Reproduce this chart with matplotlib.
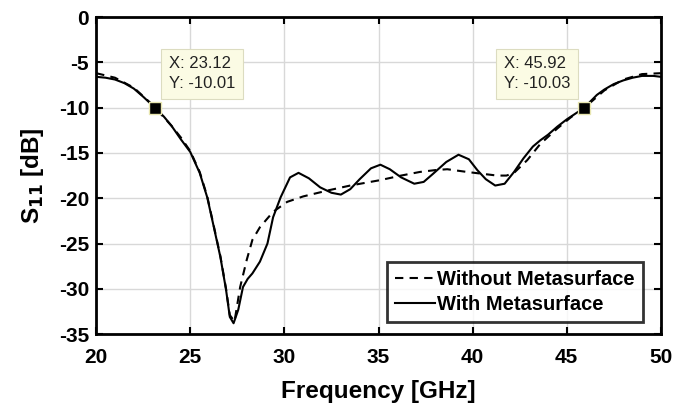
import matplotlib
matplotlib.use("Agg")
import matplotlib.pyplot as plt

# S11 (GHz, dB)
freq_with = [20.0, 20.5, 21.0, 21.5, 22.0, 22.5, 23.12, 23.6, 24.0, 24.5, 25.0,
             25.5, 25.9, 26.2, 26.6, 26.9, 27.1, 27.3, 27.55, 27.8, 28.05, 28.3,
             28.7, 29.1, 29.4, 29.8, 30.3, 30.75, 31.3, 31.9, 32.5, 33.0, 33.5,
             34.0, 34.6, 35.1, 35.6, 36.2, 36.9, 37.4, 37.9, 38.6, 39.25, 39.8,
             40.25, 40.7, 41.2, 41.7, 42.2, 42.7, 43.2, 43.6, 44.0, 44.5, 45.0,
             45.92, 46.6, 47.0, 47.5, 48.0, 48.5, 49.0, 49.6, 50.0]
s11_with = [-6.6, -6.7, -6.9, -7.3, -7.9, -8.8, -10.01, -11.0, -12.0, -13.5, -14.9,
            -17.2, -19.9, -22.7, -26.5, -30.1, -33.1, -33.8, -32.3, -29.8, -28.9, -28.3,
            -27.0, -25.0, -22.1, -19.9, -17.7, -17.2, -17.8, -18.8, -19.4, -19.6, -19.0,
            -17.9, -16.7, -16.3, -16.8, -17.7, -18.4, -18.2, -17.3, -16.0, -15.2, -15.7,
            -16.9, -17.9, -18.6, -18.4, -17.1, -15.6, -14.3, -13.6, -13.0, -12.1, -11.3,
            -10.03, -8.6, -8.0, -7.4, -7.0, -6.7, -6.5, -6.5, -6.6]

freq_without = [20.0, 21.0, 22.0, 23.0, 24.0, 24.5, 25.0, 25.5, 25.9, 26.2, 26.6,
                26.9, 27.1, 27.35, 27.65, 28.0, 28.3, 28.7, 29.4, 30.15, 31.0, 32.4,
                33.5, 35.1, 36.2, 37.2, 38.0, 38.65, 39.7, 40.5, 41.3, 41.8, 42.2,
                42.9, 43.6, 44.5, 45.2, 46.0, 47.0, 48.0, 49.0, 50.0]
s11_without = [-6.2, -6.7, -7.8, -9.7, -12.0, -13.3, -14.8, -17.1, -19.8, -22.6, -26.4,
               -30.0, -32.9, -33.6, -29.8, -26.8, -24.6, -23.2, -21.5, -20.4, -19.8, -19.1,
               -18.6, -18.0, -17.5, -17.1, -16.9, -16.8, -17.1, -17.3, -17.5, -17.5, -17.2,
               -15.8, -14.0, -12.3, -11.1, -9.9, -8.1, -6.9, -6.3, -6.2]

tips = [(23.12, -10.01), (45.92, -10.03)]

plt.rcParams["font.family"] = ["Liberation Sans", "DejaVu Sans"]
plt.rcParams["font.weight"] = "bold"
plt.rcParams["axes.unicode_minus"] = False

fig = plt.figure(figsize=(6.82, 4.05), dpi=100)
ax = fig.add_axes([0.141, 0.175, 0.828, 0.783])

ax.plot(freq_without, s11_without, color="black", lw=1.5, ls=(0, (4, 3)),
        label="Without Metasurface")
ax.plot(freq_with, s11_with, color="black", lw=1.5, label="With Metasurface")

# data tips
for (x, y), off, ha in zip(tips, [(10, 12), (-10, 12)], ["left", "right"]):
    ax.plot(x, y, marker="s", ms=8, color="black", mec="#e8e6b0", mew=1, zorder=6)
    ax.annotate(f"X: {x:.2f}\nY: {y:.2f}", (x, y), xytext=off,
                textcoords="offset points", ha=ha, va="bottom", multialignment="left",
                fontsize=12, fontweight="normal", color="#222222", linespacing=1.4,
                bbox=dict(boxstyle="square,pad=0.45", fc="#fbfbe4", ec="#dcdcc0", lw=0.8))

ax.set_xlim(20, 50)
ax.set_ylim(-35, 0)
ax.set_xticks(range(20, 51, 5))
ax.set_yticks(range(-35, 1, 5))
ax.grid(True, color="#d8d8d8", lw=1)
ax.set_axisbelow(True)
ax.tick_params(direction="in", length=5, width=1.5, top=True, right=True,
               labelsize=15)
ax.tick_params(axis="x", pad=10)
ax.tick_params(axis="y", pad=5)
for sp in ax.spines.values():
    sp.set_linewidth(2)

ax.set_xlabel("Frequency [GHz]", fontsize=17.5, fontweight="bold", labelpad=9)
ax.set_ylabel("S$_{\\mathbf{11}}$ [dB]", fontsize=17.5, fontweight="bold", labelpad=9)

leg = ax.legend(loc="lower right", bbox_to_anchor=(0.968, 0.038), borderaxespad=0,
                fontsize=14.5, frameon=True, fancybox=False,
                handlelength=2.0, handletextpad=0.1, borderpad=0.4,
                labelspacing=0.3)
leg.get_frame().set_edgecolor("black")
leg.get_frame().set_linewidth(2)
for t in leg.get_texts():
    t.set_fontweight("bold")

fig.savefig("out.png", dpi=100)
